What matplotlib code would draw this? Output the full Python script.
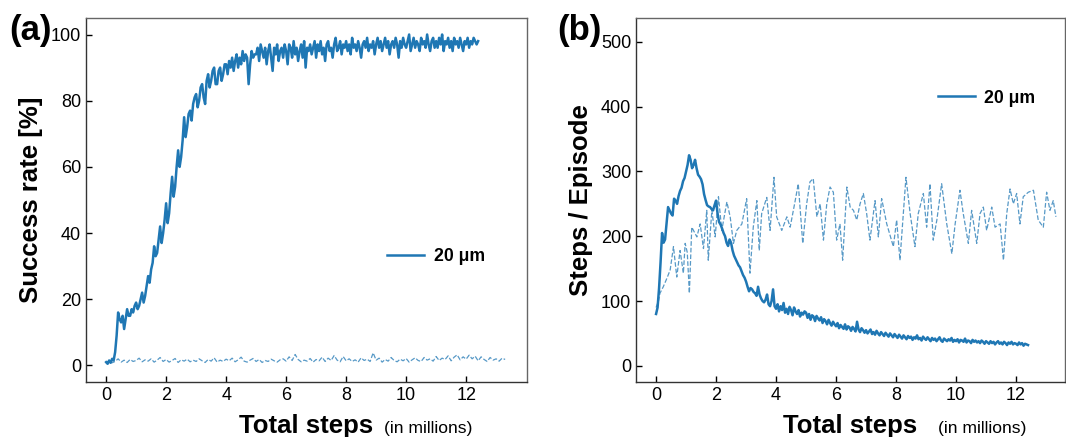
import numpy as np
import matplotlib
matplotlib.use("Agg")
import matplotlib.pyplot as plt

plt.rcParams['font.family'] = ['Liberation Sans', 'DejaVu Sans']

# ---- data -----------------------------------------------------------------
label_size = "20 μm"

# (a) success rate [%], evaluated every 0.05 M steps
success_x = np.round(np.arange(0, 12.42, 0.05), 2)
success_rate = [
    1, 0.5, 1.5, 0.8, 2, 1.5, 4, 9, 16, 14, 13, 15, 11, 14, 17, 15, 15, 17, 16, 18,
    19, 17, 18, 20, 22, 19, 21, 24, 27, 25, 29, 31, 36, 33, 34, 38, 42, 37, 40, 44,
    49, 43, 46, 52, 57, 51, 54, 60, 65, 60, 63, 68, 75, 69, 72, 76, 77, 74, 79, 81,
    82, 78, 80, 84, 85, 81, 79, 86, 88, 84, 86, 89, 90, 85, 85, 89, 90, 86, 88, 91,
    91, 88, 92, 90, 93, 89, 92, 94, 90, 93, 91, 95, 92, 94, 93, 85, 91, 95, 93, 94,
    94, 96, 92, 97, 95, 93, 96, 91, 95, 97, 93, 89, 96, 94, 97, 92, 95, 96, 93, 97,
    95, 91, 97, 96, 93, 98, 94, 96, 92, 95, 97, 93, 98, 90, 96, 95, 97, 94, 96, 98,
    93, 97, 95, 98, 94, 96, 92, 97, 98, 95, 96, 93, 97, 99, 95, 96, 98, 94, 97, 96,
    98, 95, 97, 94, 99, 96, 97, 95, 98, 96, 93, 97, 98, 96, 99, 95, 97, 96, 98, 94,
    97, 99, 96, 98, 95, 97, 99, 96, 98, 94, 97, 98, 96, 99, 97, 93, 98, 96, 99, 97,
    96, 98, 100, 95, 97, 99, 96, 98, 97, 95, 99, 97, 98, 96, 100, 97, 95, 98, 99, 96,
    98, 96, 99, 97, 100, 95, 98, 97, 99, 96, 98, 95, 99, 97, 98, 96, 99, 97, 95, 98,
    97, 99, 96, 98, 97, 99, 98, 97, 98,
]

# (a) baseline success rate [%]
baseline_x = np.round(np.arange(0, 13.35, 0.1), 2)
baseline_rate = [
    0.5, 1.5, 0.8, 1.2, 2.0, 1.0, 1.6, 0.9, 1.8, 1.2, 1.5, 2.2, 1.1, 1.7, 1.3, 2.0,
    1.0, 1.6, 2.4, 1.2, 1.8, 1.0, 1.5, 2.1, 0.9, 1.7, 1.3, 1.9, 1.1, 1.6, 1.2, 2.0,
    1.4, 0.9, 1.8, 1.3, 2.3, 1.0, 1.6, 1.2, 1.9, 1.4, 2.2, 1.1, 1.7, 2.5, 1.3, 1.0,
    1.6, 2.1, 1.2, 1.8, 0.9, 1.5, 1.2, 1.9, 1.4, 1.0, 1.7, 2.0, 1.3, 2.6, 1.5, 3.3,
    1.8, 1.1, 1.6, 1.3, 2.1, 1.0, 1.8, 1.4, 2.5, 1.2, 2.2, 1.5, 3.0, 1.6, 1.1, 2.7,
    1.4, 2.0, 1.2, 1.7, 1.0, 2.3, 1.5, 1.9, 1.2, 3.8, 1.6, 2.2, 1.0, 1.8, 1.3, 2.4,
    1.5, 1.1, 1.9, 1.4, 2.1, 1.0, 1.7, 2.3, 1.5, 1.2, 2.4, 1.6, 2.0, 1.3, 2.7, 1.5,
    2.2, 1.8, 2.9, 1.4, 2.5, 3.2, 1.7, 2.6, 1.9, 3.1, 2.0, 2.8, 1.4, 2.6, 1.8, 1.2,
    2.4, 1.6, 2.0, 1.3, 2.2, 1.8,
]

# (b) steps per episode, every 0.05 M steps
episode_x = np.round(np.arange(0, 12.42, 0.05), 2)
episode_steps = [
    80, 90, 120, 160, 205, 190, 195, 220, 245, 240, 235, 232, 258, 255, 250, 262, 270, 275, 285, 290,
    300, 310, 325, 318, 305, 310, 318, 305, 295, 292, 288, 280, 265, 256, 248, 246, 245, 242, 240, 248,
    255, 235, 222, 218, 212, 205, 200, 190, 185, 195, 190, 178, 170, 165, 160, 155, 152, 146, 140, 136,
    130, 122, 115, 120, 118, 114, 112, 108, 122, 110, 104, 100, 98, 102, 110, 95, 92, 100, 118, 92,
    88, 95, 84, 92, 86, 97, 82, 88, 80, 91, 86, 78, 90, 84, 80, 86, 76, 82, 79, 84,
    82, 74, 80, 71, 78, 76, 69, 77, 73, 70, 75, 66, 72, 69, 64, 71, 66, 62, 68, 64,
    61, 66, 58, 63, 60, 57, 64, 56, 61, 59, 54, 60, 57, 53, 68, 56, 52, 58, 55, 51,
    55, 50, 53, 56, 49, 52, 48, 54, 50, 47, 52, 49, 46, 51, 48, 45, 50, 47, 44, 49,
    46, 43, 48, 45, 42, 47, 44, 41, 46, 43, 45, 40, 44, 42, 47, 41, 43, 39, 45, 42,
    40, 44, 41, 38, 43, 40, 42, 38, 41, 44, 39, 37, 42, 40, 38, 41, 39, 43, 37, 40,
    38, 41, 36, 40, 39, 37, 42, 36, 39, 38, 35, 40, 37, 39, 36, 38, 35, 39, 37, 34,
    38, 36, 34, 38, 35, 37, 33, 36, 38, 34, 36, 33, 37, 35, 32, 36, 34, 37, 33, 35,
    34, 32, 36, 33, 35, 31, 34, 33, 32,
]

# (b) baseline steps per episode
base_ep_x = [
    0.0, 0.08, 0.13, 0.24, 0.36, 0.47, 0.58, 0.69, 0.80, 0.91, 0.97, 1.04, 1.11,
    1.19, 1.36, 1.47, 1.58, 1.69, 1.74, 1.86, 1.97, 2.08, 2.19, 2.36, 2.47, 2.58,
    2.69, 2.86, 3.02, 3.13, 3.24, 3.36, 3.44, 3.52, 3.69, 3.80, 3.93, 4.02, 4.19,
    4.36, 4.47, 4.63, 4.74, 4.89, 5.02, 5.13, 5.24, 5.36, 5.47, 5.58, 5.69, 5.80,
    5.91, 6.02, 6.13, 6.22, 6.36, 6.47, 6.58, 6.69, 6.80, 6.91, 7.02, 7.13, 7.30,
    7.41, 7.52, 7.69, 7.91, 8.02, 8.13, 8.33, 8.47, 8.63, 8.74, 8.91, 9.02, 9.13,
    9.24, 9.36, 9.52, 9.69, 9.86, 9.97, 10.13, 10.24, 10.41, 10.52, 10.69, 10.80,
    10.91, 11.02, 11.19, 11.30, 11.47, 11.58, 11.69, 11.80, 11.91, 12.02, 12.13,
    12.24, 12.41, 12.58, 12.74, 12.91, 13.02, 13.13, 13.24, 13.33,
]
base_ep_steps = [
    90, 100, 112, 122, 135, 148, 184, 137, 178, 143, 189, 175, 112, 214, 199, 219,
    181, 240, 163, 240, 199, 261, 209, 253, 230, 189, 209, 219, 258, 143, 214, 255,
    178, 235, 260, 209, 291, 230, 209, 230, 214, 253, 281, 189, 250, 284, 289, 230,
    250, 194, 250, 276, 268, 194, 219, 163, 276, 245, 240, 225, 250, 266, 235, 194,
    255, 199, 258, 219, 184, 225, 163, 291, 235, 184, 235, 266, 214, 281, 194, 225,
    281, 219, 173, 219, 271, 235, 189, 240, 189, 235, 245, 209, 245, 214, 219, 163,
    235, 273, 250, 266, 219, 261, 268, 271, 225, 214, 268, 240, 255, 230,
]

# ---- figure ---------------------------------------------------------------
color = "#1f77b4"
fig = plt.figure(figsize=(10.66, 4.37), dpi=100)
ax_a = fig.add_axes([0.0807, 0.1259, 0.4137, 0.833])
ax_b = fig.add_axes([0.5966, 0.1259, 0.4024, 0.833])


def style_axes(ax):
    for side in ("top", "right"):
        ax.spines[side].set_color("#666666")
    for side in ("left", "bottom"):
        ax.spines[side].set_color("#333333")
    for side in ("top", "right", "left", "bottom"):
        ax.spines[side].set_linewidth(1.0)
    ax.tick_params(direction="in", length=4, width=1, labelsize=13,
                   colors="black", top=False, right=False)
    ax.set_xticks([0, 2, 4, 6, 8, 10, 12])
    ax.set_xlabel("Total steps", fontsize=18.5, fontweight="bold", labelpad=7)


legend_kw = dict(loc="center left", frameon=False,
                 prop={"weight": "bold", "size": 12.7},
                 handlelength=2.1, handletextpad=0.55)

# (a)
ax_a.plot(success_x, success_rate, color=color, lw=1.8, label=label_size)
ax_a.plot(baseline_x, baseline_rate, color=color, lw=0.9, ls="--", alpha=0.75)
ax_a.set_xlim(-0.67, 14.03)
ax_a.set_ylim(-5, 105)
ax_a.set_yticks([0, 20, 40, 60, 80, 100])
style_axes(ax_a)
ax_a.set_ylabel("Success rate [%]", fontsize=18.5, fontweight="bold", labelpad=6)
ax_a.legend(bbox_to_anchor=(0.646, 0.344), **legend_kw)

# (b)
ax_b.plot(episode_x, episode_steps, color=color, lw=1.8, label=label_size)
ax_b.plot(base_ep_x, base_ep_steps, color=color, lw=0.9, ls="--", alpha=0.75)
ax_b.set_xlim(-0.67, 13.63)
ax_b.set_ylim(-25, 537)
ax_b.set_yticks([0, 100, 200, 300, 400, 500])
style_axes(ax_b)
ax_b.set_ylabel("Steps / Episode", fontsize=18.5, fontweight="bold", labelpad=6)
ax_b.legend(bbox_to_anchor=(0.666, 0.78), **legend_kw)

# panel letters and axis-unit notes
fig.text(0.009, 0.93, "(a)", fontsize=25, fontweight="bold", va="center")
fig.text(0.523, 0.93, "(b)", fontsize=25, fontweight="bold", va="center")
fig.text(0.360, 0.019, "(in millions)", fontsize=12.6, va="center")
fig.text(0.880, 0.019, "(in millions)", fontsize=12.6, va="center")

fig.savefig("out.png", dpi=100)
